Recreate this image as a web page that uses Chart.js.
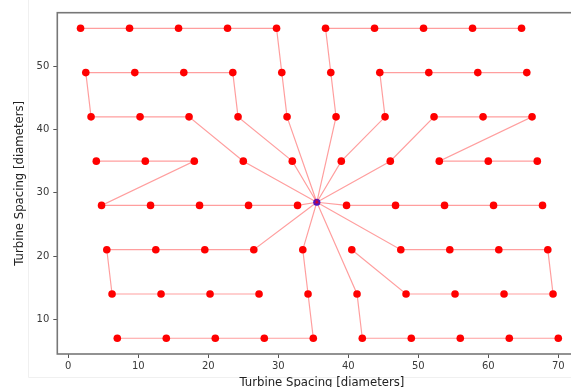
<!DOCTYPE html>
<html>
<head>
<meta charset="utf-8">
<script src="https://cdn.jsdelivr.net/npm/chart.js@4.4.1/dist/chart.umd.min.js"></script>
<style>
  html, body { margin: 0; padding: 0; background: #fff; }
  #wrap { width: 571px; height: 387px; overflow: hidden; position: relative; }
  canvas { position: absolute; left: 0; top: 0; }
</style>
</head>
<body>
<div id="wrap"><canvas id="layoutChart" width="600" height="395"></canvas></div>
<script>
// turbine rows (y in diameters) and x positions
const rowY = [7, 14, 21, 28, 35, 42, 49, 56];
const row7X  = [7, 14, 21, 28, 35, 42, 49, 56, 63, 70];
const row14X = [6.25, 13.25, 20.25, 27.25, 34.25, 41.25, 48.25, 55.25, 62.25, 69.25];
const row21X = [5.5, 12.5, 19.5, 26.5, 33.5, 40.5, 47.5, 54.5, 61.5, 68.5];
const row28X = [4.75, 11.75, 18.75, 25.75, 32.75, 39.75, 46.75, 53.75, 60.75, 67.75];
const row35X = [4, 11, 18, 25, 32, 39, 46, 53, 60, 67];
const row42X = [3.25, 10.25, 17.25, 24.25, 31.25, 38.25, 45.25, 52.25, 59.25, 66.25];
const row49X = [2.5, 9.5, 16.5, 23.5, 30.5, 37.5, 44.5, 51.5, 58.5, 65.5];
const row56X = [1.75, 8.75, 15.75, 22.75, 29.75, 36.75, 43.75, 50.75, 57.75, 64.75];

// offshore substation
const substation = { x: 35.5, y: 28.5 };

// cable strings: [row y, turbine index], 'S' = substation
const strings = [
  ['S', [42, 4], [49, 4], [56, 4], [56, 3], [56, 2], [56, 1], [56, 0]],
  ['S', [35, 3], [42, 2], [42, 1], [42, 0], [49, 0], [49, 1], [49, 2], [49, 3], [42, 3], [35, 4], 'S'],
  ['S', [28, 4], [28, 3], [28, 2], [28, 1], [28, 0], [35, 2], [35, 1], [35, 0]],
  ['S', [21, 3], [21, 2], [21, 1], [21, 0], [14, 0], [14, 1], [14, 2], [14, 3]],
  ['S', [21, 4], [14, 4], [7, 4], [7, 3], [7, 2], [7, 1], [7, 0]],
  ['S', [14, 5], [7, 5], [7, 6], [7, 7], [7, 8], [7, 9]],
  ['S', [21, 6], [21, 7], [21, 8], [21, 9], [14, 9], [14, 8], [14, 7], [14, 6], [21, 5]],
  ['S', [28, 5], [28, 6], [28, 7], [28, 8], [28, 9]],
  ['S', [35, 5], [42, 6], [49, 6], [49, 7], [49, 8], [49, 9]],
  ['S', [35, 6], [42, 7], [42, 8], [42, 9], [35, 7], [35, 8], [35, 9]],
  ['S', [42, 5], [49, 5], [56, 5], [56, 6], [56, 7], [56, 8], [56, 9]]
];

const xTicks = [0, 10, 20, 30, 40, 50, 60, 70];
const yTicks = [10, 20, 30, 40, 50];

const rowX = {7: row7X, 14: row14X, 21: row21X, 28: row28X, 35: row35X, 42: row42X, 49: row49X, 56: row56X};

function pointOf(ref) {
  if (ref === 'S') return substation;
  return { x: rowX[ref[0]][ref[1]], y: ref[0] };
}

const turbines = [];
rowY.forEach(y => rowX[y].forEach(x => turbines.push({ x: x, y: y })));

const datasets = [];
// turbines on top
datasets.push({
  data: turbines,
  showLine: false,
  pointRadius: 3.8,
  pointBackgroundColor: '#ff0000',
  pointBorderWidth: 0
});
strings.forEach(s => {
  datasets.push({
    data: s.map(pointOf),
    showLine: true,
    pointRadius: 0,
    borderColor: 'rgba(255, 0, 0, 0.38)',
    borderWidth: 1.2,
    fill: false
  });
});
// substation underneath the cables
datasets.push({
  data: [substation],
  showLine: false,
  pointRadius: 3.6,
  pointBackgroundColor: '#1a1aff',
  pointBorderWidth: 0
});

const framePlugin = {
  id: 'frame',
  beforeDraw(chart) {
    const ctx = chart.ctx;
    ctx.save();
    ctx.fillStyle = '#fff';
    ctx.fillRect(0, 0, chart.width, chart.height);
    // faint notebook output border
    ctx.strokeStyle = '#f0f0f0';
    ctx.lineWidth = 1;
    ctx.beginPath();
    ctx.moveTo(28.5, 0);
    ctx.lineTo(28.5, 377.5);
    ctx.lineTo(chart.width, 377.5);
    ctx.stroke();
    ctx.restore();
  },
  afterDraw(chart) {
    const a = chart.chartArea;
    const ctx = chart.ctx;
    ctx.save();
    ctx.strokeStyle = '#777';
    ctx.lineWidth = 1.6;
    ctx.strokeRect(a.left, a.top, a.right - a.left, a.bottom - a.top);
    ctx.restore();
  }
};

const ctxLayout = document.getElementById('layoutChart').getContext('2d');
const layoutChart = new Chart(ctxLayout, {
  type: 'scatter',
  data: { datasets: datasets },
  options: {
    responsive: false,
    animation: false,
    devicePixelRatio: 1,
    layout: { padding: { left: 0, top: 12.7, right: 13.5, bottom: 0 } },
    plugins: {
      legend: { display: false },
      tooltip: { enabled: false }
    },
    scales: {
      x: {
        type: 'linear',
        min: -1.571,
        max: 74.03,
        afterFit: s => { s.height = 41; },
        afterBuildTicks: s => { s.ticks = xTicks.map(v => ({ value: v })); },
        grid: { drawOnChartArea: false, drawTicks: true, tickLength: 4, color: '#555' },
        border: { display: false },
        ticks: {
          padding: 2.5,
          maxRotation: 0,
          color: '#3a3a3a',
          font: { family: 'DejaVu Sans', size: 10 }
        },
        title: {
          display: true,
          text: 'Turbine Spacing [diameters]',
          color: '#222',
          font: { family: 'DejaVu Sans', size: 11.7 },
          padding: { top: 0, bottom: 5 }
        }
      },
      y: {
        type: 'linear',
        min: 4.51,
        max: 58.47,
        afterFit: s => { s.width = 57.3; },
        afterBuildTicks: s => { s.ticks = yTicks.map(v => ({ value: v })); },
        grid: { drawOnChartArea: false, drawTicks: true, tickLength: 4, color: '#555' },
        border: { display: false },
        ticks: {
          padding: 4,
          color: '#3a3a3a',
          font: { family: 'DejaVu Sans', size: 10 }
        },
        title: {
          display: true,
          text: 'Turbine Spacing [diameters]',
          color: '#222',
          font: { family: 'DejaVu Sans', size: 11.7 },
          padding: { top: 13, bottom: 0 }
        }
      }
    }
  },
  plugins: [framePlugin]
});
</script>
</body>
</html>
